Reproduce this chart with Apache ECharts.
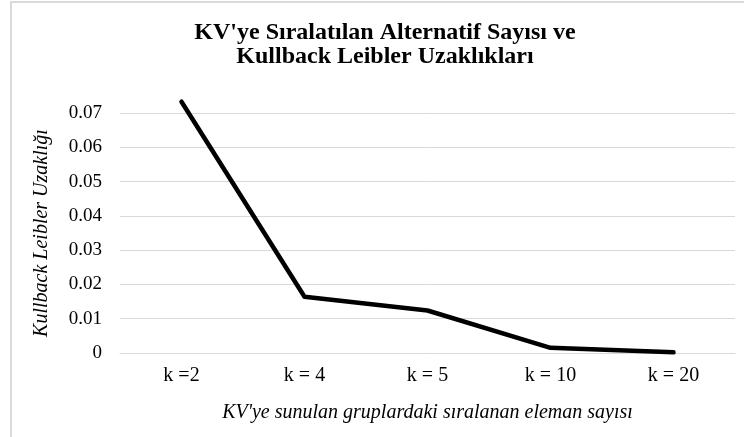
<!DOCTYPE html>
<html>
<head>
<meta charset="utf-8">
<script src="https://cdn.jsdelivr.net/npm/echarts@6/dist/echarts.min.js"></script>
<style>
html, body { margin: 0; padding: 0; background: #fff; }
#chart { width: 744px; height: 437px; }
</style>
</head>
<body>
<div id="chart"></div>
<script>
// kategoriler ve değerler
var categories = ['k =2', 'k = 4', 'k = 5', 'k = 10', 'k = 20'];
var klValues = [0.0733, 0.0164, 0.0124, 0.0015, 0.0002];
var yTicks = { min: 0, max: 0.07, step: 0.01 };

var titleText = "KV'ye Sıralatılan Alternatif Sayısı ve\nKullback Leibler Uzaklıkları";
var xName = "KV'ye sunulan gruplardaki sıralanan eleman sayısı";
var yName = 'Kullback Leibler Uzaklığı';

var serif = '"Liberation Serif", "DejaVu Serif", serif';

var myChart = echarts.init(document.getElementById('chart'), null, { renderer: 'canvas' });

var option = {
    backgroundColor: '#ffffff',
    animation: false,
    title: {
        text: titleText,
        left: 380,
        top: 16,
        textAlign: 'center',
        textStyle: {
            fontFamily: serif,
            fontWeight: 'bold',
            fontSize: 24,
            lineHeight: 24,
            color: '#000'
        }
    },
    // çerçeve (sol ve üst kenar görünüyor)
    graphic: [
        {
            type: 'rect',
            shape: { x: 11, y: 2, width: 800, height: 500 },
            style: { fill: 'none', stroke: '#d9d9d9', lineWidth: 2 },
            silent: true
        }
    ],
    grid: {
        left: 120,
        right: 9,
        top: 113,
        bottom: 84,
        containLabel: false
    },
    xAxis: {
        type: 'category',
        data: categories,
        boundaryGap: true,
        name: xName,
        nameLocation: 'middle',
        nameGap: 50,
        nameTextStyle: {
            fontFamily: serif,
            fontStyle: 'italic',
            fontSize: 20,
            color: '#000'
        },
        axisLine: { show: true, lineStyle: { color: '#d9d9d9', width: 1 } },
        axisTick: { show: false },
        axisLabel: {
            fontFamily: serif,
            fontSize: 20,
            color: '#000',
            margin: 13
        }
    },
    yAxis: {
        type: 'value',
        min: yTicks.min,
        max: yTicks.max,
        interval: yTicks.step,
        name: yName,
        nameLocation: 'middle',
        nameGap: 68,
        nameTextStyle: {
            fontFamily: serif,
            fontStyle: 'italic',
            fontSize: 20,
            color: '#000'
        },
        axisLine: { show: false },
        axisTick: { show: false },
        axisLabel: {
            fontFamily: serif,
            fontSize: 19,
            color: '#000',
            margin: 18,
            formatter: function (v) {
                return v === 0 ? '0' : v.toFixed(2);
            }
        },
        splitLine: { show: true, lineStyle: { color: '#d9d9d9', width: 1 } }
    },
    series: [
        {
            name: yName,
            type: 'line',
            data: klValues,
            symbol: 'none',
            smooth: false,
            clip: false,    // ilk nokta 0.07'nin üstünde, kesilmesin
            lineStyle: { color: '#000', width: 4.5, cap: 'round', join: 'round' }
        }
    ]
};

myChart.setOption(option);
</script>
</body>
</html>
